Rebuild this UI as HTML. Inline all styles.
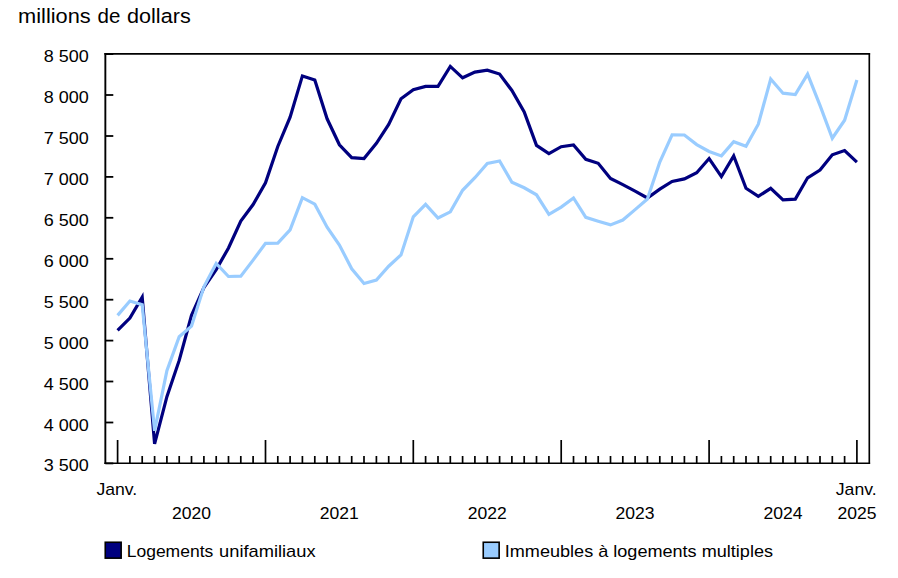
<!DOCTYPE html>
<html><head><meta charset="utf-8"><title>chart</title>
<style>
html,body{margin:0;padding:0;background:#fff;}
body{width:898px;height:578px;overflow:hidden;font-family:"Liberation Sans",sans-serif;}
svg{display:block;}
text{font-family:"Liberation Sans",sans-serif;fill:#000;}
</style></head><body>
<svg width="898" height="578" viewBox="0 0 898 578">
<rect x="0" y="0" width="898" height="578" fill="#fff"/>
<text x="18.05" y="22.8" font-size="19.3" textLength="72.74" lengthAdjust="spacingAndGlyphs">millions</text>
<text x="97.51" y="22.8" font-size="19.3" textLength="22.83" lengthAdjust="spacingAndGlyphs">de</text>
<text x="127.06" y="22.8" font-size="19.3" textLength="63.65" lengthAdjust="spacingAndGlyphs">dollars</text>
<text x="126.70" y="556.5" font-size="16.4" textLength="86.60" lengthAdjust="spacingAndGlyphs">Logements</text>
<text x="219.09" y="556.5" font-size="16.4" textLength="96.50" lengthAdjust="spacingAndGlyphs">unifamiliaux</text>
<line x1="105.35" y1="53.1" x2="105.35" y2="464.1" stroke="#000" stroke-width="1.9"/>
<line x1="104.4" y1="53.95" x2="870.1" y2="53.95" stroke="#000" stroke-width="1.75"/>
<line x1="869.3" y1="53.1" x2="869.3" y2="464.1" stroke="#000" stroke-width="1.65"/>
<line x1="104.4" y1="463.3" x2="870.1" y2="463.3" stroke="#000" stroke-width="1.6"/>
<line x1="105.3" y1="54.1" x2="113.3" y2="54.1" stroke="#000" stroke-width="1.8"/>
<text x="43.8" y="61.7" font-size="16.2" textLength="45.0" lengthAdjust="spacingAndGlyphs">8 500</text>
<line x1="105.3" y1="95.0" x2="113.3" y2="95.0" stroke="#000" stroke-width="1.8"/>
<text x="43.8" y="102.7" font-size="16.2" textLength="45.0" lengthAdjust="spacingAndGlyphs">8 000</text>
<line x1="105.3" y1="136.0" x2="113.3" y2="136.0" stroke="#000" stroke-width="1.8"/>
<text x="43.8" y="143.7" font-size="16.2" textLength="45.0" lengthAdjust="spacingAndGlyphs">7 500</text>
<line x1="105.3" y1="176.9" x2="113.3" y2="176.9" stroke="#000" stroke-width="1.8"/>
<text x="43.8" y="184.7" font-size="16.2" textLength="45.0" lengthAdjust="spacingAndGlyphs">7 000</text>
<line x1="105.3" y1="217.8" x2="113.3" y2="217.8" stroke="#000" stroke-width="1.8"/>
<text x="43.8" y="225.7" font-size="16.2" textLength="45.0" lengthAdjust="spacingAndGlyphs">6 500</text>
<line x1="105.3" y1="258.8" x2="113.3" y2="258.8" stroke="#000" stroke-width="1.8"/>
<text x="43.8" y="266.7" font-size="16.2" textLength="45.0" lengthAdjust="spacingAndGlyphs">6 000</text>
<line x1="105.3" y1="299.7" x2="113.3" y2="299.7" stroke="#000" stroke-width="1.8"/>
<text x="43.8" y="307.7" font-size="16.2" textLength="45.0" lengthAdjust="spacingAndGlyphs">5 500</text>
<line x1="105.3" y1="340.6" x2="113.3" y2="340.6" stroke="#000" stroke-width="1.8"/>
<text x="43.8" y="348.7" font-size="16.2" textLength="45.0" lengthAdjust="spacingAndGlyphs">5 000</text>
<line x1="105.3" y1="381.5" x2="113.3" y2="381.5" stroke="#000" stroke-width="1.8"/>
<text x="43.8" y="389.7" font-size="16.2" textLength="45.0" lengthAdjust="spacingAndGlyphs">4 500</text>
<line x1="105.3" y1="422.5" x2="113.3" y2="422.5" stroke="#000" stroke-width="1.8"/>
<text x="43.8" y="430.7" font-size="16.2" textLength="45.0" lengthAdjust="spacingAndGlyphs">4 000</text>
<line x1="105.3" y1="463.4" x2="113.3" y2="463.4" stroke="#000" stroke-width="1.8"/>
<text x="43.8" y="470.7" font-size="16.2" textLength="45.0" lengthAdjust="spacingAndGlyphs">3 500</text>
<line x1="117.6" y1="463.4" x2="117.6" y2="440.0" stroke="#000" stroke-width="1.7"/>
<line x1="129.9" y1="463.4" x2="129.9" y2="456.0" stroke="#000" stroke-width="1.7"/>
<line x1="142.2" y1="463.4" x2="142.2" y2="456.0" stroke="#000" stroke-width="1.7"/>
<line x1="154.6" y1="463.4" x2="154.6" y2="456.0" stroke="#000" stroke-width="1.7"/>
<line x1="166.9" y1="463.4" x2="166.9" y2="456.0" stroke="#000" stroke-width="1.7"/>
<line x1="179.2" y1="463.4" x2="179.2" y2="456.0" stroke="#000" stroke-width="1.7"/>
<line x1="191.5" y1="463.4" x2="191.5" y2="456.0" stroke="#000" stroke-width="1.7"/>
<line x1="203.9" y1="463.4" x2="203.9" y2="456.0" stroke="#000" stroke-width="1.7"/>
<line x1="216.2" y1="463.4" x2="216.2" y2="456.0" stroke="#000" stroke-width="1.7"/>
<line x1="228.5" y1="463.4" x2="228.5" y2="456.0" stroke="#000" stroke-width="1.7"/>
<line x1="240.8" y1="463.4" x2="240.8" y2="456.0" stroke="#000" stroke-width="1.7"/>
<line x1="253.1" y1="463.4" x2="253.1" y2="456.0" stroke="#000" stroke-width="1.7"/>
<line x1="265.5" y1="463.4" x2="265.5" y2="440.0" stroke="#000" stroke-width="1.7"/>
<line x1="277.8" y1="463.4" x2="277.8" y2="456.0" stroke="#000" stroke-width="1.7"/>
<line x1="290.1" y1="463.4" x2="290.1" y2="456.0" stroke="#000" stroke-width="1.7"/>
<line x1="302.4" y1="463.4" x2="302.4" y2="456.0" stroke="#000" stroke-width="1.7"/>
<line x1="314.8" y1="463.4" x2="314.8" y2="456.0" stroke="#000" stroke-width="1.7"/>
<line x1="327.1" y1="463.4" x2="327.1" y2="456.0" stroke="#000" stroke-width="1.7"/>
<line x1="339.4" y1="463.4" x2="339.4" y2="456.0" stroke="#000" stroke-width="1.7"/>
<line x1="351.7" y1="463.4" x2="351.7" y2="456.0" stroke="#000" stroke-width="1.7"/>
<line x1="364.0" y1="463.4" x2="364.0" y2="456.0" stroke="#000" stroke-width="1.7"/>
<line x1="376.4" y1="463.4" x2="376.4" y2="456.0" stroke="#000" stroke-width="1.7"/>
<line x1="388.7" y1="463.4" x2="388.7" y2="456.0" stroke="#000" stroke-width="1.7"/>
<line x1="401.0" y1="463.4" x2="401.0" y2="456.0" stroke="#000" stroke-width="1.7"/>
<line x1="413.3" y1="463.4" x2="413.3" y2="440.0" stroke="#000" stroke-width="1.7"/>
<line x1="425.6" y1="463.4" x2="425.6" y2="456.0" stroke="#000" stroke-width="1.7"/>
<line x1="438.0" y1="463.4" x2="438.0" y2="456.0" stroke="#000" stroke-width="1.7"/>
<line x1="450.3" y1="463.4" x2="450.3" y2="456.0" stroke="#000" stroke-width="1.7"/>
<line x1="462.6" y1="463.4" x2="462.6" y2="456.0" stroke="#000" stroke-width="1.7"/>
<line x1="474.9" y1="463.4" x2="474.9" y2="456.0" stroke="#000" stroke-width="1.7"/>
<line x1="487.3" y1="463.4" x2="487.3" y2="456.0" stroke="#000" stroke-width="1.7"/>
<line x1="499.6" y1="463.4" x2="499.6" y2="456.0" stroke="#000" stroke-width="1.7"/>
<line x1="511.9" y1="463.4" x2="511.9" y2="456.0" stroke="#000" stroke-width="1.7"/>
<line x1="524.2" y1="463.4" x2="524.2" y2="456.0" stroke="#000" stroke-width="1.7"/>
<line x1="536.5" y1="463.4" x2="536.5" y2="456.0" stroke="#000" stroke-width="1.7"/>
<line x1="548.9" y1="463.4" x2="548.9" y2="456.0" stroke="#000" stroke-width="1.7"/>
<line x1="561.2" y1="463.4" x2="561.2" y2="440.0" stroke="#000" stroke-width="1.7"/>
<line x1="573.5" y1="463.4" x2="573.5" y2="456.0" stroke="#000" stroke-width="1.7"/>
<line x1="585.8" y1="463.4" x2="585.8" y2="456.0" stroke="#000" stroke-width="1.7"/>
<line x1="598.2" y1="463.4" x2="598.2" y2="456.0" stroke="#000" stroke-width="1.7"/>
<line x1="610.5" y1="463.4" x2="610.5" y2="456.0" stroke="#000" stroke-width="1.7"/>
<line x1="622.8" y1="463.4" x2="622.8" y2="456.0" stroke="#000" stroke-width="1.7"/>
<line x1="635.1" y1="463.4" x2="635.1" y2="456.0" stroke="#000" stroke-width="1.7"/>
<line x1="647.4" y1="463.4" x2="647.4" y2="456.0" stroke="#000" stroke-width="1.7"/>
<line x1="659.8" y1="463.4" x2="659.8" y2="456.0" stroke="#000" stroke-width="1.7"/>
<line x1="672.1" y1="463.4" x2="672.1" y2="456.0" stroke="#000" stroke-width="1.7"/>
<line x1="684.4" y1="463.4" x2="684.4" y2="456.0" stroke="#000" stroke-width="1.7"/>
<line x1="696.7" y1="463.4" x2="696.7" y2="456.0" stroke="#000" stroke-width="1.7"/>
<line x1="709.1" y1="463.4" x2="709.1" y2="440.0" stroke="#000" stroke-width="1.7"/>
<line x1="721.4" y1="463.4" x2="721.4" y2="456.0" stroke="#000" stroke-width="1.7"/>
<line x1="733.7" y1="463.4" x2="733.7" y2="456.0" stroke="#000" stroke-width="1.7"/>
<line x1="746.0" y1="463.4" x2="746.0" y2="456.0" stroke="#000" stroke-width="1.7"/>
<line x1="758.3" y1="463.4" x2="758.3" y2="456.0" stroke="#000" stroke-width="1.7"/>
<line x1="770.7" y1="463.4" x2="770.7" y2="456.0" stroke="#000" stroke-width="1.7"/>
<line x1="783.0" y1="463.4" x2="783.0" y2="456.0" stroke="#000" stroke-width="1.7"/>
<line x1="795.3" y1="463.4" x2="795.3" y2="456.0" stroke="#000" stroke-width="1.7"/>
<line x1="807.6" y1="463.4" x2="807.6" y2="456.0" stroke="#000" stroke-width="1.7"/>
<line x1="820.0" y1="463.4" x2="820.0" y2="456.0" stroke="#000" stroke-width="1.7"/>
<line x1="832.3" y1="463.4" x2="832.3" y2="456.0" stroke="#000" stroke-width="1.7"/>
<line x1="844.6" y1="463.4" x2="844.6" y2="456.0" stroke="#000" stroke-width="1.7"/>
<line x1="856.9" y1="463.4" x2="856.9" y2="440.0" stroke="#000" stroke-width="1.7"/>
<text x="96.4" y="495.1" font-size="16.4" textLength="40.8" lengthAdjust="spacingAndGlyphs">Janv.</text>
<text x="835.8" y="495.1" font-size="16.4" textLength="40.8" lengthAdjust="spacingAndGlyphs">Janv.</text>
<text x="172.0" y="518.8" font-size="16.2" textLength="39.0" lengthAdjust="spacingAndGlyphs">2020</text>
<text x="319.8" y="518.8" font-size="16.2" textLength="39.0" lengthAdjust="spacingAndGlyphs">2021</text>
<text x="467.7" y="518.8" font-size="16.2" textLength="39.0" lengthAdjust="spacingAndGlyphs">2022</text>
<text x="615.6" y="518.8" font-size="16.2" textLength="39.0" lengthAdjust="spacingAndGlyphs">2023</text>
<text x="763.4" y="518.8" font-size="16.2" textLength="39.0" lengthAdjust="spacingAndGlyphs">2024</text>
<text x="837.4" y="518.8" font-size="16.2" textLength="39.0" lengthAdjust="spacingAndGlyphs">2025</text>
<polyline points="117.6,330.4 129.9,318.1 142.2,297.2 154.6,443.9 166.9,396.7 179.2,360.4 191.5,315.4 203.9,287.5 216.2,269.6 228.5,248.0 240.8,221.0 253.1,204.5 265.5,182.8 277.8,146.5 290.1,117.1 302.4,75.9 314.8,79.9 327.1,118.8 339.4,144.8 351.7,157.6 364.0,158.6 376.4,143.3 388.7,124.5 401.0,98.8 413.3,89.6 425.6,86.4 438.0,86.4 450.3,66.4 462.6,77.8 474.9,72.1 487.3,70.2 499.6,74.0 511.9,90.5 524.2,112.0 536.5,145.4 548.9,153.7 561.2,146.7 573.5,145.0 585.8,159.4 598.2,163.3 610.5,178.4 622.8,184.7 635.1,191.2 647.4,198.0 659.8,189.1 672.1,181.5 684.4,178.9 696.7,172.7 709.1,158.5 721.4,176.6 733.7,155.9 746.0,188.3 758.3,196.4 770.7,188.3 783.0,199.9 795.3,199.1 807.6,177.8 820.0,170.0 832.3,154.8 844.6,150.6 856.9,162.2" fill="none" stroke="#00007f" stroke-width="3.2" stroke-linejoin="miter" stroke-miterlimit="4"/>
<polyline points="117.6,315.4 129.9,301.0 142.2,304.8 154.6,430.8 166.9,370.8 179.2,336.8 191.5,326.1 203.9,286.8 216.2,263.5 228.5,276.5 240.8,276.2 253.1,260.1 265.5,243.3 277.8,243.1 290.1,229.8 302.4,197.7 314.8,204.2 327.1,227.2 339.4,245.0 351.7,268.8 364.0,283.5 376.4,280.0 388.7,266.2 401.0,254.9 413.3,216.8 425.6,204.4 438.0,218.0 450.3,211.9 462.6,190.3 474.9,177.7 487.3,163.4 499.6,161.0 511.9,182.3 524.2,187.8 536.5,194.8 548.9,214.4 561.2,207.1 573.5,198.0 585.8,217.4 598.2,221.2 610.5,224.9 622.8,220.0 635.1,209.6 647.4,199.0 659.8,162.0 672.1,134.9 684.4,135.0 696.7,144.6 709.1,151.5 721.4,155.9 733.7,141.7 746.0,146.3 758.3,124.2 770.7,79.0 783.0,93.2 795.3,94.6 807.6,74.2 820.0,105.4 832.3,138.2 844.6,120.2 856.9,80.0" fill="none" stroke="#99ccff" stroke-width="3.2" stroke-linejoin="miter" stroke-miterlimit="4"/>
<rect x="105.25" y="542.25" width="15.9" height="15.9" fill="#00007f" stroke="#000" stroke-width="1.6"/>
<rect x="483.25" y="542.25" width="15.9" height="15.9" fill="#99ccff" stroke="#000" stroke-width="1.6"/>
<text x="504.8" y="556.5" font-size="16.4" textLength="268.2" lengthAdjust="spacingAndGlyphs">Immeubles à logements multiples</text>
</svg></body></html>
